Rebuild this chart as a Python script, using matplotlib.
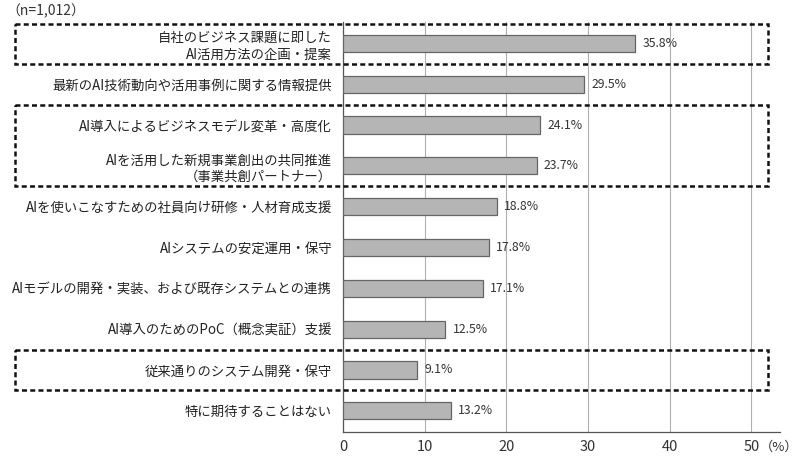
import matplotlib
matplotlib.use("Agg")
import matplotlib.pyplot as plt
from matplotlib.patches import Rectangle
from matplotlib.transforms import blended_transform_factory

plt.rcParams['font.family'] = ['Noto Sans CJK JP', 'DejaVu Sans']

# data
labels = [
    "自社のビジネス課題に即した\nAI活用方法の企画・提案",
    "最新のAI技術動向や活用事例に関する情報提供",
    "AI導入によるビジネスモデル変革・高度化",
    "AIを活用した新規事業創出の共同推進\n（事業共創パートナー）",
    "AIを使いこなすための社員向け研修・人材育成支援",
    "AIシステムの安定運用・保守",
    "AIモデルの開発・実装、および既存システムとの連携",
    "AI導入のためのPoC（概念実証）支援",
    "従来通りのシステム開発・保守",
    "特に期待することはない",
]
values = [35.8, 29.5, 24.1, 23.7, 18.8, 17.8, 17.1, 12.5, 9.1, 13.2]
xticks = [0, 10, 20, 30, 40, 50]
# groups outlined with dashed boxes (first, last index)
boxes = [(0, 0), (2, 3), (8, 8)]

fig = plt.figure(figsize=(8, 4.62), dpi=100)
ax = fig.add_axes([0.429, 0.065, 0.546, 0.887])

y = list(range(len(values)))
ax.barh(y, values, height=0.42, color='#b5b5b5', edgecolor='#666666', linewidth=0.9, zorder=3)
for yi, v in zip(y, values):
    ax.text(v + 0.9, yi, f"{v:.1f}%", va='center', ha='left', fontsize=8.8, color='#333333')

ax.set_ylim(len(values) - 0.48, -0.52)
ax.set_xlim(0, 53.5)
ax.set_yticks(y)
ax.set_yticklabels(labels, fontsize=9.6, color='#222222', linespacing=1.25)
ax.set_xticks(xticks)
ax.set_xticklabels([str(t) for t in xticks], fontsize=10.5, color='#333333')
ax.tick_params(axis='both', length=0)
ax.tick_params(axis='y', pad=8)
ax.tick_params(axis='x', pad=6)
ax.grid(axis='x', color='#b0b0b0', linewidth=0.8, zorder=0)
for s in ['top', 'right']:
    ax.spines[s].set_visible(False)
for s in ['left', 'bottom']:
    ax.spines[s].set_color('#555555')
    ax.spines[s].set_linewidth(0.9)

tr = blended_transform_factory(fig.transFigure, ax.transData)
x0 = 15 / 800
x1 = 768 / 800
for a, b in boxes:
    top = a - 0.5 if a > 0 else -0.48
    r = Rectangle((x0, top), x1 - x0, (b + 0.5) - top, transform=tr,
                  fill=False, edgecolor='#111111', linewidth=1.8,
                  linestyle=(0, (2.0, 1.3)), clip_on=False, zorder=5)
    fig.add_artist(r)

fig.text(6 / 800, 1 - 11 / 462, "（n=1,012）", fontsize=10, color='#333333', va='center', ha='left')
fig.text(798 / 800, 1 - 447 / 462, "（%）", fontsize=9.5, color='#333333', va='center', ha='right')

fig.savefig("out.png", dpi=100, facecolor='white')
